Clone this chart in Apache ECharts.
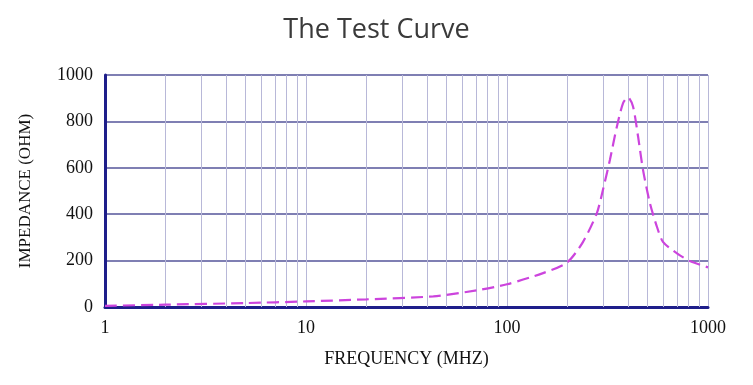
<!DOCTYPE html>
<html>
<head>
<meta charset="utf-8">
<script src="https://cdn.jsdelivr.net/npm/echarts@6/dist/echarts.min.js"></script>
<style>
html,body{margin:0;padding:0;background:#fff;}
#chart{width:753px;height:385px;}
</style>
</head>
<body>
<div id="chart"></div>
<script>
var titleText = 'The Test Curve';
var xAxisName = 'FREQUENCY (MHZ)';
var yAxisName = 'IMPEDANCE (OHM)';
var frequency = [1, 2, 5, 10, 20, 43, 71, 100, 150, 199, 239, 280, 300, 325, 352, 378, 400, 424, 449, 475, 514, 557, 597, 701, 813, 1000];
var impedance = [5, 10, 17, 24, 33, 46, 72, 98, 145, 192, 281, 405, 504, 634, 777, 879, 904, 863, 734, 591, 448, 346, 281, 231, 198, 171];
var minorGrid = [2,3,4,5,6,7,8,9,20,30,40,50,60,70,80,90,200,300,400,500,600,700,800,900];
var yTicks = [0, 200, 400, 600, 800, 1000];

var chart = echarts.init(document.getElementById('chart'));
var serif = '"Liberation Serif", "DejaVu Serif", serif';
chart.setOption({
  animation: false,
  backgroundColor: '#ffffff',
  title: {
    text: titleText, left: 'center', top: 12,
    textStyle: {fontFamily: '"Open Sans", "DejaVu Sans", sans-serif', fontSize: 27, fontWeight: 'normal', color: '#3a3a3a'}
  },
  grid: {left: 105, right: 45, top: 75, bottom: 78},
  xAxis: {
    type: 'log', logBase: 10, min: 1, max: 1000,
    name: xAxisName, nameLocation: 'middle', nameGap: 43,
    nameTextStyle: {fontFamily: serif, fontSize: 18, color: '#111'},
    axisLine: {show: true, onZero: false, lineStyle: {color: '#1e1e8a', width: 3}},
    axisTick: {show: false},
    axisLabel: {fontFamily: serif, fontSize: 18, color: '#111', margin: 12, formatter: function(v){ return String(v); }},
    splitLine: {show: true, lineStyle: {color: '#b8b8d8', width: 1}}
  },
  yAxis: {
    type: 'value', min: 0, max: 1000, interval: 200,
    name: yAxisName, nameLocation: 'middle', nameGap: 71, nameRotate: 90,
    nameTextStyle: {fontFamily: serif, fontSize: 17, color: '#111'},
    axisLine: {show: true, lineStyle: {color: '#1e1e8a', width: 3}},
    axisTick: {show: false},
    axisLabel: {fontFamily: serif, fontSize: 18, color: '#111', margin: 12, formatter: function(v){ return String(v); }},
    splitLine: {show: true, lineStyle: {color: '#55559a', width: 1.5}}
  },
  series: [{
    type: 'line',
    data: frequency.map(function(f, i){ return [f, impedance[i]]; }),
    showSymbol: false,
    smooth: 0.25,
    lineStyle: {color: '#cc44dd', width: 2.2, type: [12, 6]},
    markLine: {
      silent: true, symbol: ['none', 'none'],
      label: {show: false},
      lineStyle: {color: '#b8b8d8', width: 1, type: 'solid'},
      data: minorGrid.map(function(v){ return {xAxis: v}; })
    },
    z: 5
  }]
});
</script>
</body>
</html>
